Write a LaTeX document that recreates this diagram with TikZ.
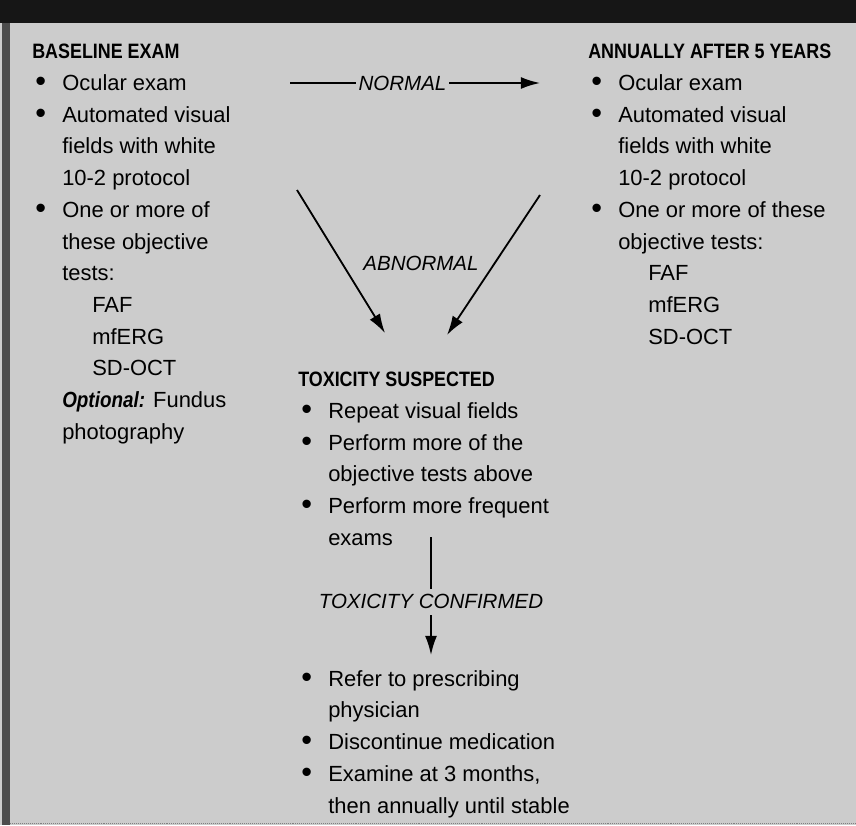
\documentclass[tikz,border=0pt]{standalone}
\usepackage{fontspec}
\setmainfont{Liberation Sans}
\newfontfamily\condfont[FakeStretch=0.86]{Liberation Sans}
\usepackage{graphicx}
\usepackage{tikz}
\usetikzlibrary{arrows.meta, positioning}
\definecolor{paper}{RGB}{204,204,204}
\definecolor{band}{RGB}{22,22,22}
\newcommand{\bodyfont}{\fontsize{15.6pt}{22.55pt}\selectfont}
\newcommand{\hd}[1]{{\fontsize{14.8pt}{22.55pt}\selectfont\condfont\bfseries #1}}
\newcommand{\itm}{\makebox[0.75cm][l]{\hspace{0.08cm}\raisebox{-0.06em}{\scalebox{1.4}{\textbullet}}}}
\newcommand{\ind}{\hspace*{0.75cm}}
\newcommand{\subind}{\hspace*{1.5cm}}
\tikzset{
    block/.style={align=left, anchor=north west, inner sep=0pt, font=\bodyfont},
    flowlabel/.style={font=\fontsize{14.6pt}{17pt}\selectfont\itshape,
        fill=paper, inner xsep=2pt, inner ysep=4pt},
    flow/.style={line width=1.3pt, -{Latex[length=4.8mm,width=3mm]}},
}

\begin{document}
\begin{tikzpicture}[x=0.025cm, y=-0.025cm]
    % \clip (0,0) rectangle (856,825);
    \useasboundingbox (0,0) rectangle (856,825);
    \fill[paper] (0,0) rectangle (856,825);
    \fill[band] (0,0) rectangle (856,23);
    \fill[gray!60!black] (2,23) rectangle (10,825);
    \draw[gray, densely dotted] (10,823) --(856,823);

    \node[block] (base) at (32,44) {\hd{BASELINE EXAM}\\
        \itm Ocular exam\\
        \itm Automated visual\\
        \ind fields with white\\
        \ind 10-2 protocol\\
        \itm One or more of\\
        \ind these objective\\
        \ind tests:\\
        \subind FAF\\
        \subind mfERG\\
        \subind SD-OCT\\
        \ind{\condfont\textbf{\textit{Optional:}}} Fundus\\
        \ind photography};
    \node[block] (annual) at (588,44) {\hd{ANNUALLY AFTER 5 YEARS}\\
        \itm Ocular exam\\
        \itm Automated visual\\
        \ind fields with white\\
        \ind 10-2 protocol\\
        \itm One or more of these\\
        \ind objective tests:\\
        \subind FAF\\
        \subind mfERG\\
        \subind SD-OCT};
    \node[block] (suspected) at (298,372) {\hd{TOXICITY SUSPECTED}\\
        \itm Repeat visual fields\\
        \itm Perform more of the\\
        \ind objective tests above\\
        \itm Perform more frequent\\
        \ind exams};
    \node[block] (confirmed) at (298,670) {\itm Refer to prescribing\\
        \ind physician\\
        \itm Discontinue medication\\
        \itm Examine at 3 months,\\
        \ind then annually until stable};

    \coordinate (N1) at (290,83);
    \coordinate (N2) at (540,83);
    \draw[flow] (N1) --node[flowlabel, pos=0.45] (normal) {NORMAL} (N2);

    \coordinate (L1) at (297,190);
    \coordinate (L2) at (385,333);
    \coordinate (R1) at (540,195);
    \coordinate (R2) at (447,335);
    \draw[flow] (L1) --(L2);
    \draw[flow] (R1) --(R2);
    \node[flowlabel] (abnormal) at (421,263) {ABNORMAL};

    \coordinate (T1) at (431,537);
    \coordinate (T2) at (431,655);
    \draw[flow] (T1) --node[flowlabel, pos=0.55] (toxconf) {TOXICITY CONFIRMED} (T2);
\end{tikzpicture}
\end{document}
